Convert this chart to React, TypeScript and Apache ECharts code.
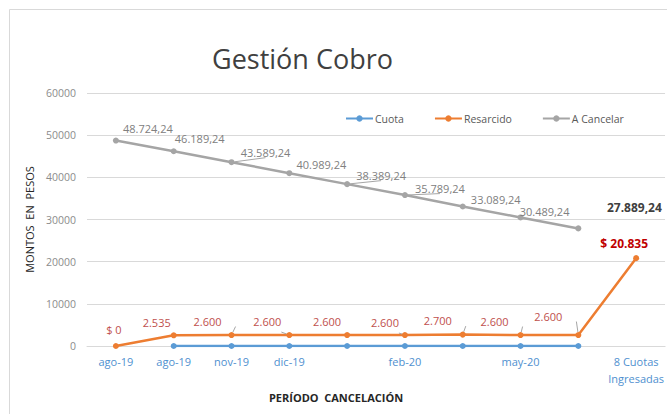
import React, { useEffect, useRef } from "react";
import * as echarts from "echarts";

const categories = ["ago-19", "ago-19", "nov-19", "dic-19", "", "feb-20", "", "may-20", "", "8 Cuotas\nIngresadas"];
const cuota = [null, 0, 0, 0, 0, 0, 0, 0, 0, null];
const resarcido = [0, 2535, 2600, 2600, 2600, 2600, 2700, 2600, 2600, 20835];
const aCancelar = [48724.24, 46189.24, 43589.24, 40989.24, 38389.24, 35789.24, 33089.24, 30489.24, 27889.24, null];
const yTicks = { min: 0, max: 60000, interval: 10000 };

// label styling (offsets relative to the point, in px)
const cancelOffsets = [[32, -12], [26, -13], [34, -10], [32, -9], [34, -9], [35, -7], [33, -7], [24, -6], [56, -21]];
const cancelLeader = [false, false, true, false, true, true, false, false, false];
const resarOffsets = [[-2, -17], [-17, -13], [-24, -14], [-22, -14], [-20, -14], [-20, -13], [-25, -14], [-26, -14], [-30, -19], [-12, -15]];
const resarLeader = [false, false, true, true, false, true, true, true, true, false];

const FONT = "'Open Sans', 'Noto Sans', sans-serif";

function groupThousands(s: string) {
  return s.replace(/\B(?=(\d{3})+(?!\d))/g, ".");
}
function fmtCancel(v: number) {
  const [i, d] = v.toFixed(2).split(".");
  return groupThousands(i) + "," + d;
}
function fmtResar(v: number, idx: number, last: number) {
  const s = groupThousands(String(Math.round(v)));
  return idx === 0 || idx === last ? "$ " + s : s;
}

export default function App() {
  const ref = useRef<HTMLDivElement>(null);
  useEffect(() => {
    if (!ref.current) return;
    const chart = echarts.init(ref.current, undefined, { renderer: "svg" });
    const lastR = resarcido.length - 1;
    const lastC = 8;
    const option: any = {
      animation: false,
      backgroundColor: "#ffffff",
      textStyle: { fontFamily: FONT },
      title: {
        text: "Gestión Cobro",
        left: 207,
        top: 40,
        textStyle: { fontFamily: FONT, fontSize: 27, fontWeight: "normal", color: "#404040" },
      },
      legend: {
        left: 340,
        top: 108,
        itemWidth: 27,
        itemHeight: 8,
        itemGap: 30,
        textStyle: { fontFamily: FONT, fontSize: 10.5, color: "#595959", padding: [0, 0, 0, -3] },
        data: ["Cuota", "Resarcido", "A Cancelar"],
      },
      grid: { left: 87, right: 0, top: 93, bottom: 68 },
      xAxis: {
        type: "category",
        data: categories,
        boundaryGap: true,
        axisLine: { lineStyle: { color: "#D9D9D9" } },
        axisTick: { show: false },
        axisLabel: { interval: 0, color: "#4F90CF", fontSize: 11, fontFamily: FONT, margin: 7, lineHeight: 17 },
        name: "PERÍODO  CANCELACIÓN",
        nameLocation: "middle",
        nameGap: 44,
        nameTextStyle: { fontFamily: FONT, fontSize: 11, fontWeight: "bold", color: "#262626", padding: [0, 80, 0, 0] },
      },
      yAxis: {
        type: "value",
        min: yTicks.min,
        max: yTicks.max,
        interval: yTicks.interval,
        axisLine: { show: false },
        axisTick: { show: false },
        splitLine: { lineStyle: { color: "#D9D9D9" } },
        axisLabel: { color: "#8C8C8C", fontSize: 10.5, fontFamily: FONT, margin: 11, formatter: (v: number) => String(v) },
        name: "MONTOS  EN  PESOS",
        nameLocation: "middle",
        nameGap: 45,
        nameTextStyle: { fontFamily: FONT, fontSize: 11, color: "#262626" },
      },
      graphic: [
        {
          type: "rect",
          shape: { x: 9.5, y: 9.5, width: 700, height: 450 },
          style: { fill: "none", stroke: "#D9D9D9", lineWidth: 1 },
          silent: true,
        },
      ],
      series: [
        {
          name: "Cuota",
          type: "line",
          data: cuota,
          color: "#5B9BD5",
          symbol: "circle",
          symbolSize: 6,
          lineStyle: { width: 2.5 },
          z: 2,
        },
        {
          name: "Resarcido",
          type: "line",
          color: "#ED7D31",
          symbol: "circle",
          symbolSize: 6,
          lineStyle: { width: 2.5 },
          z: 3,
          labelLine: { show: false, lineStyle: { color: "#A6A6A6", width: 1 } },
          data: resarcido.map((v, i) => ({
            value: v,
            label: {
              show: true,
              position: "inside",
              offset: resarOffsets[i],
              formatter: () => fmtResar(v, i, lastR),
              color: i === lastR ? "#C00000" : "#C0504D",
              fontWeight: i === lastR ? "bold" : "normal",
              fontSize: i === lastR ? 12 : 11,
              fontFamily: FONT,
            },
            labelLine: { show: resarLeader[i] },
          })),
        },
        {
          name: "A Cancelar",
          type: "line",
          color: "#A5A5A5",
          symbol: "circle",
          symbolSize: 6,
          lineStyle: { width: 2.5 },
          z: 3,
          labelLine: { show: false, lineStyle: { color: "#A6A6A6", width: 1 } },
          data: aCancelar.map((v, i) =>
            v === null
              ? null
              : {
                  value: v,
                  label: {
                    show: true,
                    position: "inside",
                    offset: cancelOffsets[i],
                    formatter: () => fmtCancel(v),
                    color: i === lastC ? "#404040" : "#808080",
                    fontWeight: i === lastC ? "bold" : "normal",
                    fontSize: i === lastC ? 12 : 11,
                    fontFamily: FONT,
                  },
                  labelLine: { show: cancelLeader[i] },
                }
          ),
        },
      ],
    };
    chart.setOption(option);
    return () => chart.dispose();
  }, []);
  return (
    <div
      ref={ref}
      style={{ position: "absolute", left: 0, top: 0, width: 667, height: 414, background: "#fff" }}
    />
  );
}
